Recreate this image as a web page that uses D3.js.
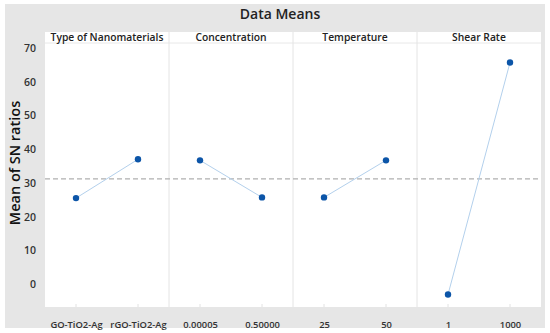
<!DOCTYPE html>
<html>
<head>
<meta charset="utf-8">
<script src="https://cdn.jsdelivr.net/npm/d3@7"></script>
<style>
  body { margin: 0; background: #fff; }
  text { font-family: "Open Sans", "Noto Sans", sans-serif; }
</style>
</head>
<body>
<div id="chart"></div>
<script>
// main effects data
var factors = ["Type of Nanomaterials", "Concentration", "Temperature", "Shear Rate"];
var levels = [["GO-TiO2-Ag", "rGO-TiO2-Ag"], ["0.00005", "0.50000"], ["25", "50"], ["1", "1000"]];
var means = [[25.5, 37.0], [36.7, 25.7], [25.7, 36.7], [-3.1, 65.7]];
var overallMean = 31.2;
var yTicks = [0, 10, 20, 30, 40, 50, 60, 70];

var W = 550, H = 333;
var plot = {left: 45, right: 541, top: 43, bottom: 307};

var svg = d3.select("#chart").append("svg")
    .attr("width", W)
    .attr("height", H);

// grey frame
svg.append("rect")
    .attr("x", 5).attr("y", 4)
    .attr("width", 540).attr("height", 324)
    .attr("fill", "#e6e6e6");

svg.append("text")
    .attr("x", 280).attr("y", 19)
    .attr("text-anchor", "middle")
    .attr("font-size", 14)
    .attr("font-weight", 600)
    .attr("fill", "#222")
    .text("Data Means");

// header strip + plot area
svg.append("rect")
    .attr("x", plot.left).attr("y", 32)
    .attr("width", plot.right - plot.left).attr("height", plot.bottom - 32)
    .attr("fill", "#fff");

var x = d3.scaleBand().domain(d3.range(factors.length)).range([plot.left, plot.right]);
var y = d3.scaleLinear().domain([-6.8, 71.5]).range([plot.bottom, plot.top]);

svg.append("line")
    .attr("x1", plot.left).attr("x2", plot.right)
    .attr("y1", plot.top).attr("y2", plot.top)
    .attr("stroke", "#e8e8e8");

// panel separators
svg.selectAll(".sep").data(d3.range(1, factors.length)).enter().append("line")
    .attr("class", "sep")
    .attr("x1", function(d) { return x(d); }).attr("x2", function(d) { return x(d); })
    .attr("y1", 32).attr("y2", plot.bottom)
    .attr("stroke", "#e4e4e4");

// y axis
var yAxis = svg.append("g")
    .attr("transform", "translate(" + plot.left + ",0)")
    .call(d3.axisLeft(y).tickValues(yTicks).tickSize(0).tickPadding(9));
yAxis.select(".domain").remove();
yAxis.selectAll("text")
    .attr("font-size", 10.5)
    .attr("font-weight", 600)
    .attr("fill", "#333")
    .style("font-family", "'Open Sans', sans-serif");

svg.append("text")
    .attr("transform", "translate(20,163) rotate(-90)")
    .attr("text-anchor", "middle")
    .attr("font-size", 14.5)
    .attr("font-weight", 600)
    .attr("fill", "#111")
    .text("Mean of SN ratios");

// reference line
svg.append("line")
    .attr("x1", plot.left).attr("x2", plot.right)
    .attr("y1", y(overallMean)).attr("y2", y(overallMean))
    .attr("stroke", "#b0b0b0")
    .attr("stroke-width", 1.2)
    .attr("stroke-dasharray", "5,3");

factors.forEach(function(f, i) {
    var px = d3.scalePoint().domain(levels[i]).range([x(i), x(i) + x.bandwidth()]).padding(0.5);
    var g = svg.append("g");

    g.append("text")
        .attr("x", x(i) + x.bandwidth() / 2).attr("y", 41)
        .attr("text-anchor", "middle")
        .attr("font-size", 10.3)
        .attr("font-weight", 600)
        .attr("fill", "#222")
        .text(f);

    var xa = g.append("g")
        .attr("transform", "translate(0," + plot.bottom + ")")
        .call(d3.axisBottom(px).tickSize(0).tickPadding(14));
    xa.select(".domain").remove();
    xa.selectAll("text")
        .attr("font-size", 9.4)
        .attr("font-weight", 600)
        .attr("fill", "#333")
        .style("font-family", "'Open Sans', sans-serif");

    // tiny tick marks inside plot
    g.selectAll(".tk").data(levels[i]).enter().append("line")
        .attr("x1", function(d) { return px(d); }).attr("x2", function(d) { return px(d); })
        .attr("y1", plot.bottom - 3).attr("y2", plot.bottom)
        .attr("stroke", "#e2e2e2");

    var pts = levels[i].map(function(l, j) { return [px(l), y(means[i][j])]; });
    g.append("path")
        .attr("d", d3.line()(pts))
        .attr("fill", "none")
        .attr("stroke", "#b3d0ec")
        .attr("stroke-width", 1);
    g.selectAll("circle").data(pts).enter().append("circle")
        .attr("cx", function(d) { return d[0]; })
        .attr("cy", function(d) { return d[1]; })
        .attr("r", 3.2)
        .attr("fill", "#0c55a8");
});
</script>
</body>
</html>
